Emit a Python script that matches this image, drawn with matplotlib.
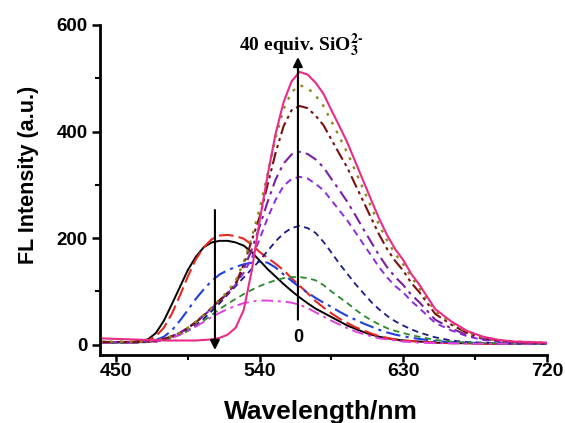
import matplotlib
matplotlib.use("Agg")
import matplotlib.pyplot as plt

wavelength = [440, 450, 460, 470, 475, 480, 485, 490, 495, 500, 505, 510, 515, 520, 525,
              530, 535, 540, 545, 550, 555, 560, 565, 570, 575, 580, 585, 590, 595, 600,
              605, 610, 615, 620, 625, 630, 635, 640, 650, 660, 670, 680, 690, 700, 710, 720]

# spectra, 0 -> 40 equiv. SiO3^2-
black = [6, 5, 5, 10, 22, 45, 76, 108, 140, 165, 183, 192, 195, 195, 192,
         186, 174, 158, 142, 128, 114, 101, 89, 78, 68, 60, 52, 44, 36, 30,
         24, 19, 15, 12, 10, 8, 7, 6, 4, 3, 3, 2, 2, 2, 2, 2]
red = [5, 5, 5, 8, 16, 32, 58, 92, 128, 160, 183, 198, 205, 206, 204,
       199, 188, 174, 163, 152, 140, 125, 111, 97, 82, 70, 59, 49, 41, 33,
       27, 21, 16, 13, 10, 8, 7, 6, 4, 3, 3, 2, 2, 2, 2, 2]
blue = [4, 4, 4, 6, 9, 15, 27, 45, 65, 86, 104, 120, 132, 140, 146,
        151, 154, 156, 154, 145, 132, 120, 108, 98, 88, 79, 71, 62, 54, 47,
        40, 34, 28, 23, 19, 16, 13, 11, 7, 5, 4, 3, 3, 2, 2, 2]
navy = [4, 4, 4, 5, 6, 9, 13, 19, 27, 37, 49, 63, 78, 94, 110,
        126, 142, 158, 176, 194, 209, 219, 223, 219, 210, 193, 173, 152, 133, 114,
        97, 80, 66, 54, 44, 36, 29, 23, 14, 8, 5, 4, 3, 3, 2, 2]
green = [4, 4, 4, 5, 6, 9, 13, 19, 26, 35, 45, 56, 67, 77, 86,
         95, 103, 110, 116, 121, 125, 127, 127, 125, 121, 112, 100, 89, 78, 66,
         55, 46, 38, 31, 26, 22, 18, 15, 9, 6, 4, 3, 3, 2, 2, 2]
magenta = [4, 4, 4, 5, 6, 9, 13, 19, 26, 34, 43, 52, 60, 67, 73,
           78, 81, 83, 83, 82, 81, 79, 75, 69, 61, 53, 45, 38, 31, 25,
           20, 16, 12, 10, 8, 6, 5, 4, 3, 3, 2, 2, 2, 2, 2, 2]
violet = [5, 5, 5, 6, 8, 11, 16, 23, 32, 43, 56, 69, 83, 97, 113,
          135, 162, 198, 238, 272, 298, 311, 315, 312, 302, 290, 271, 252, 233, 211,
          189, 167, 145, 126, 110, 98, 82, 69, 41, 27, 16, 9, 6, 4, 3, 3]
purple = [5, 5, 5, 6, 8, 11, 16, 22, 31, 42, 55, 68, 82, 97, 115,
          142, 178, 222, 268, 310, 340, 357, 362, 358, 348, 333, 311, 290, 268, 243,
          217, 192, 167, 145, 127, 112, 94, 80, 47, 31, 18, 11, 7, 5, 4, 3]
brown = [5, 5, 5, 6, 8, 11, 16, 22, 31, 42, 55, 69, 84, 98, 115,
         150, 195, 240, 300, 360, 410, 440, 448, 444, 430, 412, 385, 358, 332, 300,
         269, 237, 206, 179, 157, 139, 116, 99, 58, 38, 22, 13, 8, 5, 4, 3]
olive = [6, 6, 6, 6, 8, 11, 16, 22, 32, 43, 56, 70, 85, 100, 120,
         155, 200, 255, 320, 388, 442, 474, 487, 482, 468, 448, 419, 390, 360, 326,
         292, 258, 224, 195, 170, 151, 127, 107, 63, 41, 24, 14, 9, 6, 5, 4]
pink = [12, 11, 10, 9, 9, 8, 8, 8, 8, 8, 9, 10, 13, 19, 32,
        65, 138, 232, 318, 396, 455, 494, 512, 507, 492, 471, 440, 410, 379, 343,
        307, 271, 236, 205, 179, 159, 133, 113, 67, 44, 26, 15, 9, 6, 5, 4]

plt.rcParams["font.family"] = ["Liberation Sans", "DejaVu Sans"]
plt.rcParams["font.weight"] = "bold"

fig = plt.figure(figsize=(5.65, 4.23), dpi=100)
ax = fig.add_axes([0.177, 0.161, 0.791, 0.780])

ax.plot(wavelength, black, color="black", lw=1.4)
ax.plot(wavelength, red, color="#e8281e", lw=1.5, dashes=(7, 2.5))
ax.plot(wavelength, blue, color="#1f3fe0", lw=1.5, dashes=(7, 2.5, 1.5, 2.5))
ax.plot(wavelength, navy, color="#1a1a8a", lw=1.3, dashes=(3.5, 2.5))
ax.plot(wavelength, green, color="#2a8a2a", lw=1.3, dashes=(3.5, 2.5))
ax.plot(wavelength, magenta, color="#e040e0", lw=1.4, dashes=(6, 2.5, 1.5, 2.5))
ax.plot(wavelength, violet, color="#8a2be2", lw=1.4, dashes=(3.5, 2.5))
ax.plot(wavelength, purple, color="#7b1fa2", lw=1.5, dashes=(6, 2.5, 1.5, 2.5))
ax.plot(wavelength, brown, color="#7a1010", lw=1.5, dashes=(6, 2, 1.5, 2, 1.5, 2))
ax.plot(wavelength, olive, color="#8b8b1a", lw=1.7, dashes=(1.2, 3))
ax.plot(wavelength, pink, color="#ec2a88", lw=1.5)

# arrows
ax.annotate("", xy=(512, -15), xytext=(512, 258),
            arrowprops=dict(arrowstyle="-|>", color="black", lw=1.5, mutation_scale=14))
ax.annotate("", xy=(564, 545), xytext=(564, 42),
            arrowprops=dict(arrowstyle="-|>", color="black", lw=1.5, mutation_scale=14))
ax.text(564, 14, "0", ha="center", va="center", fontsize=13, fontweight="bold")
ax.text(566, 561, r"40 equiv. SiO$_3^{2\text{-}}$", ha="center", va="center",
        fontsize=14, fontweight="bold", family=["Liberation Serif", "DejaVu Serif"],
        math_fontfamily="stix")

ax.set_xlim(440, 720)
ax.set_ylim(-19, 600)
ax.set_xticks([450, 540, 630, 720])
ax.set_yticks([0, 200, 400, 600])
ax.set_xticks([495, 585, 675], minor=True)
ax.set_yticks([100, 300, 500], minor=True)

for s in ["top", "right"]:
    ax.spines[s].set_visible(False)
for s in ["left", "bottom"]:
    ax.spines[s].set_linewidth(2)

ax.tick_params(axis="x", which="major", direction="out", length=5, width=1.8,
               labelsize=14, pad=0.5)
ax.tick_params(axis="y", which="major", direction="out", length=6, width=1.8,
               labelsize=13.5, pad=3)
ax.tick_params(which="minor", direction="out", length=3.5, width=1.5)

ax.set_xlabel("Wavelength/nm", fontsize=19, fontweight="bold", va="center")
ax.set_ylabel("FL Intensity (a.u.)", fontsize=15.5, fontweight="bold", va="center")
ax.xaxis.set_label_coords(0.495, -0.173)
ax.yaxis.set_label_coords(-0.161, 0.545)

fig.savefig("out.png", dpi=100)
